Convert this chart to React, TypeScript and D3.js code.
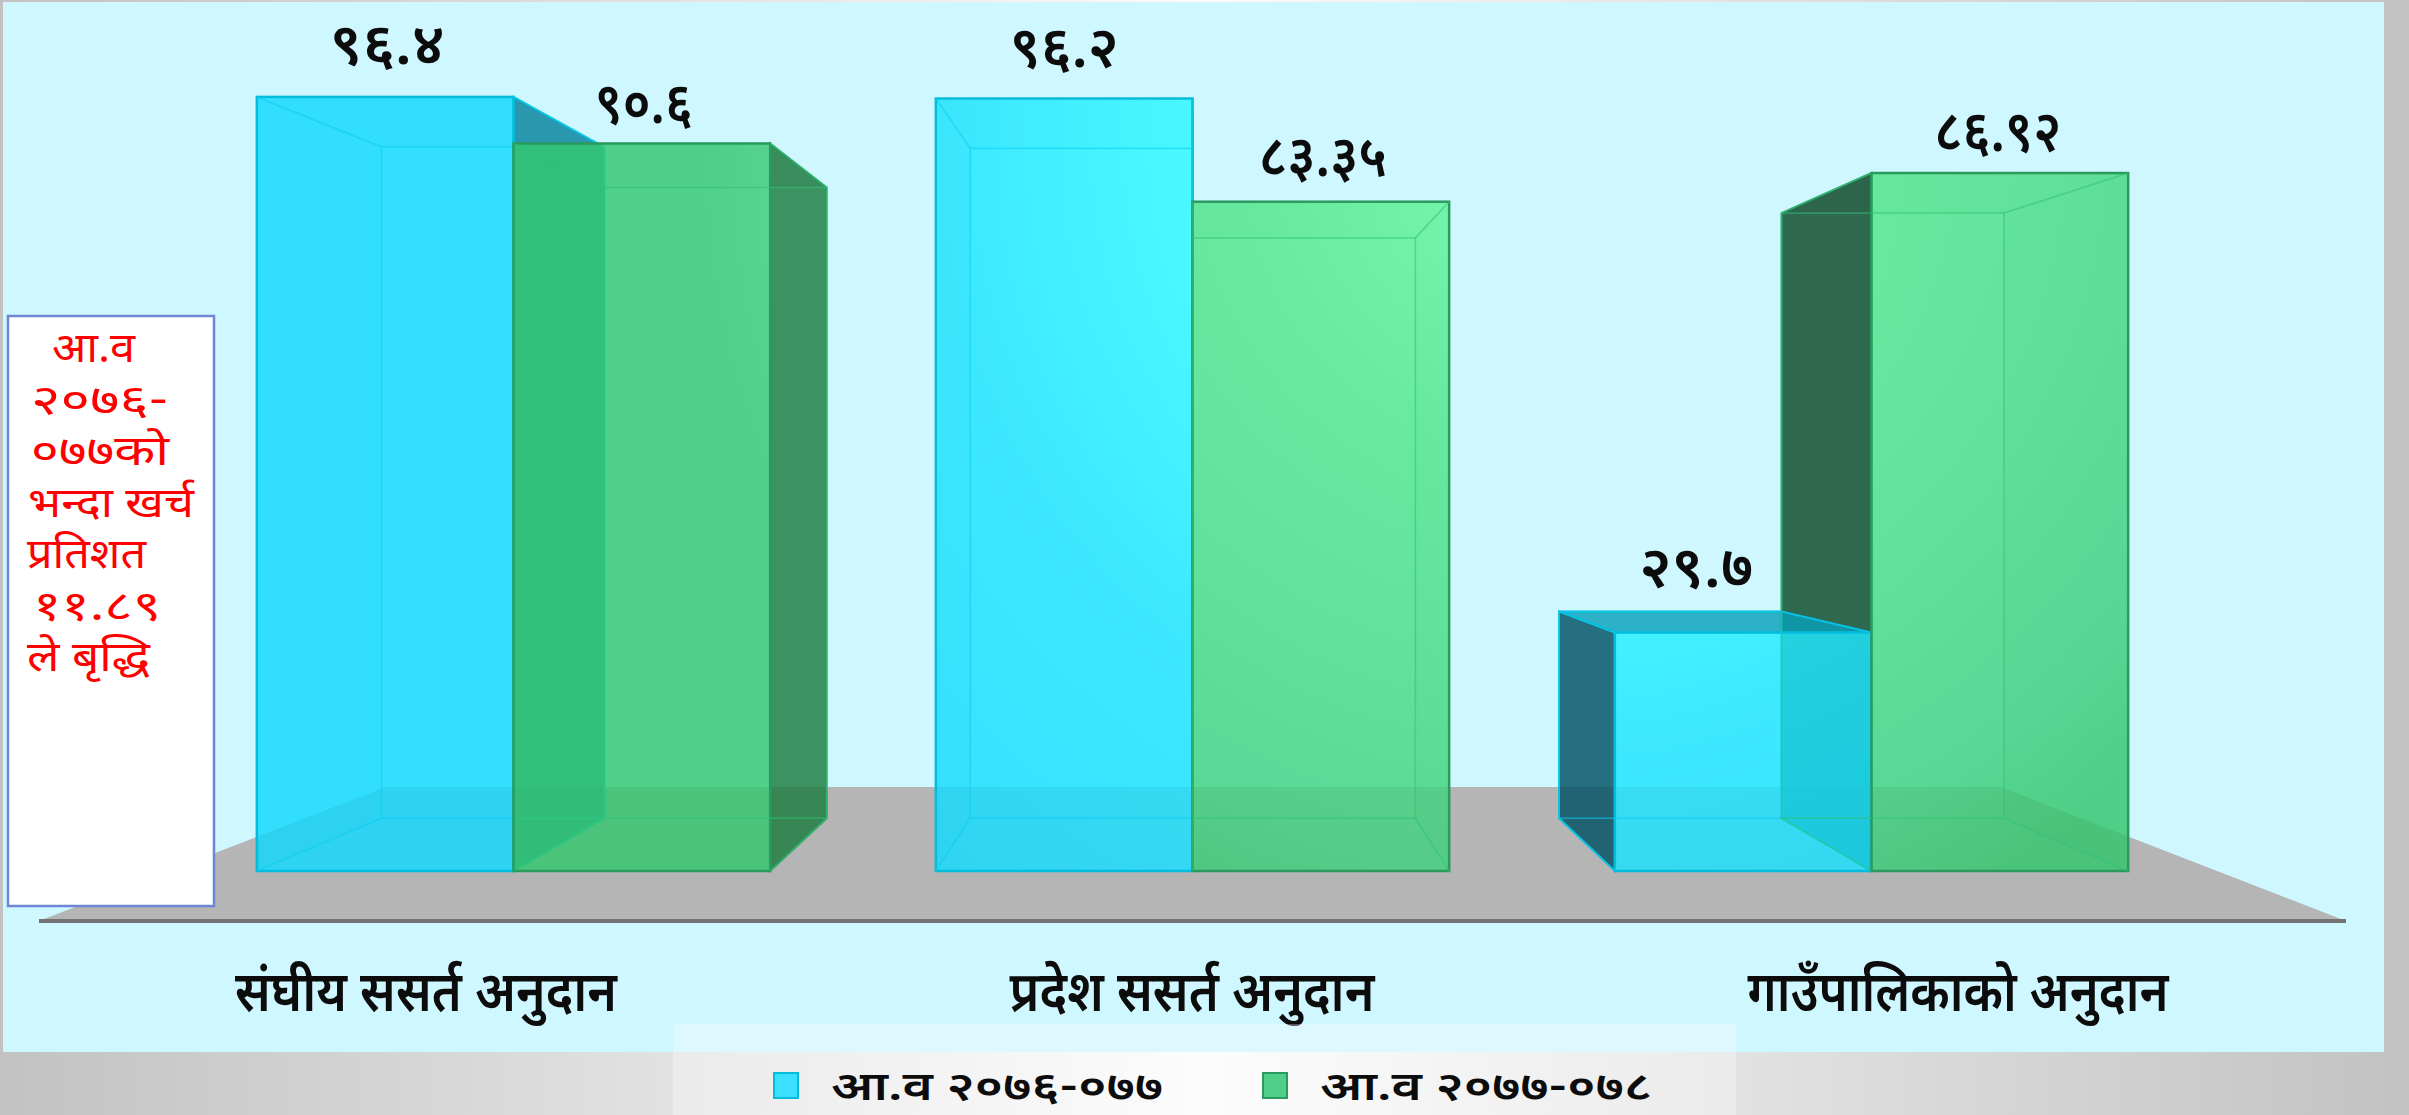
import React, { useEffect, useRef } from 'react'
import * as d3 from 'd3'

const categories = ['संघीय ससर्त अनुदान', 'प्रदेश ससर्त अनुदान', 'गाउँपालिकाको अनुदान']
const seriesNames = ['आ.व २०७६-०७७', 'आ.व २०७७-०७८']
const fy2076 = [96.4, 96.2, 29.7]
const fy2077 = [90.6, 83.35, 86.92]
const noteLines = ['आ.व', '२०७६-', '०७७को', 'भन्दा खर्च', 'प्रतिशत', '११.८९', 'ले बृद्धि']

const WIDTH = 2409
const HEIGHT = 1115
const FONT = "'Noto Sans Devanagari', 'Lohit Devanagari', 'Noto Sans', 'DejaVu Sans', sans-serif"

// vanishing point of the fake 3d box, back faces are scaled towards it
const vp = { x: 1195, y: 474 }
const depth = 0.867
const back = (x: number, y: number): [number, number] => [vp.x + depth * (x - vp.x), vp.y + depth * (y - vp.y)]

const styles = [
  { front: 'blueFront', left: '#005064', right: '#068aa5', top: '#07a1bc', edge: '#05bcdc', inner: '#08cdf2' },
  { front: 'greenFront', left: '#0b4929', right: '#1b7b3d', top: '#1b7b3d', edge: '#2a9a5e', inner: '#2fc374' },
]

const nepaliDigits = '०१२३४५६७८९'
const toNepali = (v: number) => String(v).replace(/\d/g, d => nepaliDigits[+d])

// label tweaks per group and series: [dx, dy, text width]
const labelNudge = [
  [[2, -6, 115], [2, 7, 98]],
  [[0, -5, 109], [2, 1, 128]],
  [[-47, 3, 114], [-2, 5, 127]],
]
const categoryWidths = [382, 365, 421]
const noteX = [52, 31, 31, 28, 27, 33, 27]
const noteWidths = [83, 137, 138, 166, 119, 128, 123]

export default function App() {
  const ref = useRef<SVGSVGElement>(null)

  useEffect(() => {
    const svg = d3.select(ref.current)
    svg.selectAll('*').remove()
    const defs = svg.append('defs')

    const page = defs.append('linearGradient').attr('id', 'page')
    page.append('stop').attr('offset', 0).attr('stop-color', '#c2c2c2')
    page.append('stop').attr('offset', 0.5).attr('stop-color', '#fbfbfb')
    page.append('stop').attr('offset', 1).attr('stop-color', '#c2c2c2')

    const radial = (id: string, stops: [number, string][]) => {
      const g = defs.append('radialGradient').attr('id', id)
        .attr('gradientUnits', 'userSpaceOnUse')
        .attr('cx', 1550).attr('cy', 150).attr('r', 1000)
      stops.forEach(([o, c]) => g.append('stop').attr('offset', o).attr('stop-color', c))
    }
    radial('blueFront', [[0.3, '#31ffff'], [0.6, '#1de5ff'], [1, '#11daff']])
    radial('greenFront', [[0.1, '#63f59a'], [0.3, '#52e78c'], [0.5, '#4ade86'], [0.74, '#3fd07e'], [0.85, '#34c76e']])

    svg.append('rect').attr('width', WIDTH).attr('height', HEIGHT).attr('fill', 'url(#page)')
    svg.append('rect').attr('x', 3).attr('y', 2).attr('width', 2381).attr('height', 1050).attr('fill', '#cff7ff')

    // scales
    const y = d3.scaleLinear().domain([0, 100]).range([871, 68])
    const x0 = d3.scaleBand<string>().domain(categories).range([174, 2211]).paddingInner(0.244).paddingOuter(0.122)
    const x1 = d3.scaleBand<string>().domain(seriesNames).range([0, x0.bandwidth()])
    const xLabel = d3.scaleBand<string>().domain(categories).range([43, 2341])
    const poly = d3.line()

    // floor
    const floorFront = 921
    const floorLeft = 39
    const floorRight = 2346
    const floorDepth = 0.7
    const fb = (x: number) => vp.x + floorDepth * (x - vp.x)
    svg.append('path')
      .attr('d', poly([[floorLeft, floorFront], [fb(floorLeft), 787], [fb(floorRight), 787], [floorRight, floorFront]]) + 'Z')
      .attr('fill', '#b5b5b5')
    svg.append('rect').attr('x', floorLeft).attr('y', floorFront - 2).attr('width', floorRight - floorLeft).attr('height', 4).attr('fill', '#727272')

    const bars = categories.flatMap((c, i) => seriesNames.map((s, j) => {
      const v = j === 0 ? fy2076[i] : fy2077[i]
      const xa = x0(c)! + x1(s)!
      return { i, j, v, xa, xb: xa + x1.bandwidth(), top: y(v), base: y(0) }
    }))

    // side faces first, green behind blue so the blue front tints over it
    const faces = svg.append('g')
    bars.slice().sort((a, b) => b.j - a.j).forEach(b => {
      const st = styles[b.j]
      const [bxa, btop] = back(b.xa, b.top)
      const [bxb, bbase] = back(b.xb, b.base)
      const face = (pts: [number, number][], outer: boolean, color: string) => {
        faces.append('path').attr('d', poly(pts) + 'Z')
          .attr('fill', outer ? color : '#000')
          .attr('fill-opacity', outer ? 0.82 : 0.04)
          .attr('stroke', outer ? st.edge : 'none').attr('stroke-width', 2).attr('stroke-opacity', 0.9)
      }
      face([[b.xa, b.top], [bxa, btop], [bxa, bbase], [b.xa, b.base]], bxa < b.xa, st.left)
      face([[b.xb, b.top], [bxb, btop], [bxb, bbase], [b.xb, b.base]], bxb > b.xb, st.right)
      face([[b.xa, b.top], [b.xb, b.top], [bxb, btop], [bxa, btop]], btop < b.top, st.top)
    })

    // fronts, each with the wireframe seen through it, blue goes under the green
    const fronts = svg.append('g')
    bars.slice().sort((a, b) => a.j - b.j).forEach(b => {
      const st = styles[b.j]
      const [bxa, btop] = back(b.xa, b.top)
      const [bxb, bbase] = back(b.xb, b.base)
      fronts.append('rect').attr('x', b.xa).attr('y', b.top)
        .attr('width', b.xb - b.xa).attr('height', b.base - b.top)
        .attr('fill', `url(#${st.front})`).attr('fill-opacity', 0.82)
        .attr('stroke', st.edge).attr('stroke-width', 2.5)
      const wire = fronts.append('g').attr('fill', 'none').attr('stroke', st.inner)
        .attr('stroke-width', 1.6).attr('stroke-opacity', 0.55)
      wire.append('rect').attr('x', bxa).attr('y', btop).attr('width', bxb - bxa).attr('height', bbase - btop)
      const corners: [number, number, number, number][] = [
        [b.xa, b.top, bxa, btop], [b.xb, b.top, bxb, btop],
        [b.xa, b.base, bxa, bbase], [b.xb, b.base, bxb, bbase],
      ]
      corners.forEach(([ax, ay, cx, cy]) => {
        wire.append('path').attr('d', poly([[ax, ay], [cx, cy]]))
      })
    })

    // value labels
    svg.append('g').selectAll('text').data(bars).join('text')
      .attr('x', d => (d.xa + d.xb) / 2 + labelNudge[d.i][d.j][0])
      .attr('y', d => Math.min(d.top, back(d.xa, d.top)[1]) - 27 + labelNudge[d.i][d.j][1])
      .attr('text-anchor', 'middle')
      .attr('textLength', d => labelNudge[d.i][d.j][2]).attr('lengthAdjust', 'spacingAndGlyphs')
      .attr('font-family', FONT).attr('font-size', 58).attr('font-weight', 600).attr('fill', '#0c0c0c')
      .text(d => toNepali(d.v))

    // category labels
    svg.append('g').selectAll('text').data(categories).join('text')
      .attr('x', d => xLabel(d)! + xLabel.bandwidth() / 2)
      .attr('y', 1011)
      .attr('text-anchor', 'middle')
      .attr('textLength', (_, i) => categoryWidths[i]).attr('lengthAdjust', 'spacingAndGlyphs')
      .attr('font-family', FONT).attr('font-size', 56).attr('font-weight', 600).attr('fill', '#0c0c0c')
      .text(d => d)

    // note box
    svg.append('rect').attr('x', 8).attr('y', 316).attr('width', 206).attr('height', 590)
      .attr('fill', '#fff').attr('stroke', '#6f86d6').attr('stroke-width', 2.5)
    svg.append('g').selectAll('text').data(noteLines).join('text')
      .attr('x', (_, i) => noteX[i])
      .attr('y', (_, i) => 362 + i * 51.5)
      .attr('textLength', (_, i) => noteWidths[i]).attr('lengthAdjust', 'spacingAndGlyphs')
      .attr('font-family', FONT).attr('font-size', 42).attr('fill', '#ff0000')
      .text(d => d)

    // legend
    svg.append('rect').attr('x', 673).attr('y', 1024).attr('width', 1063).attr('height', 91).attr('fill', '#fff').attr('fill-opacity', 0.3)
    const legendX = d3.scaleOrdinal<string, number>().domain(seriesNames).range([774, 1263])
    const legend = svg.append('g').selectAll('g').data(seriesNames).join('g')
      .attr('transform', d => `translate(${legendX(d)},1073)`)
    legend.append('rect').attr('width', 24).attr('height', 25)
      .attr('fill', (_, i) => (i === 0 ? '#39e0ff' : '#50cf88'))
      .attr('stroke', (_, i) => styles[i].edge).attr('stroke-width', 2)
    legend.append('text').attr('x', 57).attr('y', 27)
      .attr('textLength', 332).attr('lengthAdjust', 'spacingAndGlyphs')
      .attr('font-family', FONT).attr('font-size', 40).attr('font-weight', 600).attr('fill', '#0c0c0c')
      .text(d => d)
  }, [])

  return <svg ref={ref} width={WIDTH} height={HEIGHT} style={{ position: 'absolute', left: 0, top: 0, display: 'block' }} />
}
